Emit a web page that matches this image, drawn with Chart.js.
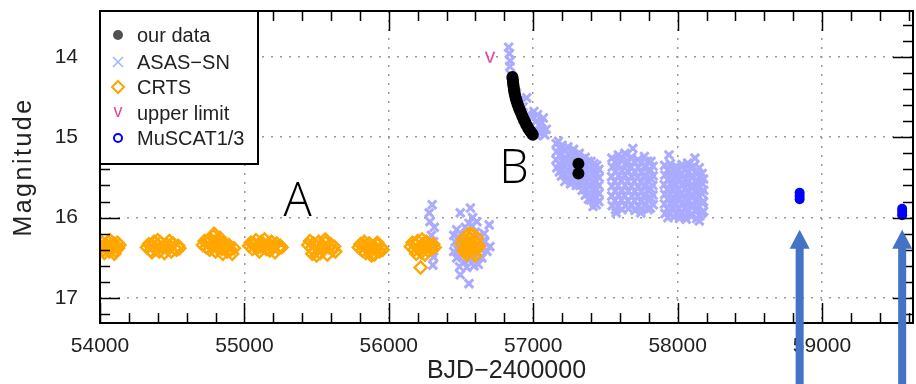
<!DOCTYPE html>
<html>
<head>
<meta charset="utf-8">
<script src="https://cdn.jsdelivr.net/npm/chart.js@4"></script>
<style>
  html, body { margin: 0; padding: 0; background: #fff; overflow: hidden; }
  #wrap { width: 922px; height: 384px; }
</style>
</head>
<body>
<div id="wrap"><canvas id="lightCurve"></canvas></div>
<script>
// axis ranges (BJD-2400000, magnitude runs downwards)
const xMin = 54000, xMax = 59630;
const magTop = 13.43, magBottom = 17.31;
const xTickValues = [54000, 55000, 56000, 57000, 58000, 59000];
const yTickValues = [14, 15, 16, 17];

// our photometry: fading branch and two late points
const ourData = [
  [56856,14.25],[56858,14.28],[56860,14.31],[56862,14.34],[56864,14.37],[56866,14.40],
  [56869,14.43],[56872,14.46],[56876,14.49],[56880,14.52],[56885,14.55],[56890,14.58],
  [56896,14.61],[56902,14.64],[56909,14.67],[56916,14.70],[56923,14.73],[56930,14.76],
  [56937,14.79],[56944,14.81],[56951,14.84],[56958,14.86],[56966,14.89],[56974,14.91],
  [56982,14.93],[56990,14.95],[56997,14.97],
  [57313,15.33],[57313,15.45]
];

// ASAS-SN, one block per season
const asasSeason1 = [
  [56300,15.84],[56280,15.94],[56285,16.05],[56315,16.12],[56295,16.22],[56310,16.30],
  [56315,16.37],[56300,16.44],[56310,16.49],[56305,16.59]
];
const asasSeason2 = [
  [56495,15.94],[56565,15.88],[56555,16.07],[56695,16.09],[56665,16.30],[56700,16.36],
  [56490,16.61],[56495,16.71],[56555,16.82],[56645,16.50],[56470,16.15],[56500,16.20],
  [56530,16.12],[56600,16.18],[56630,16.22],[56460,16.30],[56480,16.40],[56510,16.45],
  [56600,16.48],[56640,16.40],[56620,16.58],[56520,16.55],[56470,16.50],[56580,16.00],
  [56610,16.05],[56450,16.22],[56540,16.62],[56590,16.60],[56660,16.20],[56680,16.42],
  [56450,16.42],[56500,16.33],[56560,16.52],[56650,16.30],[56485,16.25],[56575,16.10]
];
const asasOutburst = [
  [56830,13.88],[56835,13.96],[56840,14.05],[56838,14.12],[56845,14.22],[56860,14.35],
  [56885,14.45],[56905,14.55],[56930,14.62],[56955,14.51],[56960,14.72],[56990,14.75],
  [57020,14.80],[57040,14.85],[56975,14.88],[57010,14.92],[57050,14.92],[56945,14.80],
  [57030,14.72],[57005,14.68],[57060,14.82],[57080,14.97],[57070,14.76],[57090,14.90],
  [57045,14.95],[57025,14.98]
];
const asasSeason3 = [
  [57175,15.05],[57160,15.08],[57162,15.18],[57158,15.28],[57163,15.38],
  [57180,15.13],[57182,15.23],[57178,15.33],[57181,15.43],
  [57200,15.10],[57198,15.20],[57203,15.30],[57200,15.40],[57196,15.48],
  [57220,15.16],[57222,15.26],[57218,15.36],[57221,15.46],[57219,15.55],
  [57240,15.12],[57243,15.22],[57238,15.32],[57241,15.42],[57240,15.52],
  [57260,15.18],[57262,15.28],[57258,15.38],[57261,15.48],[57259,15.58],
  [57280,15.15],[57278,15.25],[57283,15.35],[57280,15.45],[57277,15.55],
  [57300,15.22],[57302,15.32],[57298,15.42],[57301,15.52],[57299,15.60],
  [57320,15.20],[57322,15.28],[57318,15.40],[57320,15.50],[57323,15.60],
  [57340,15.27],[57342,15.37],[57338,15.47],[57341,15.57],[57339,15.66],
  [57360,15.25],[57358,15.35],[57362,15.45],[57360,15.55],[57357,15.65],[57361,15.72],
  [57380,15.30],[57382,15.40],[57378,15.50],[57381,15.60],[57379,15.70],[57383,15.77],
  [57400,15.30],[57403,15.40],[57398,15.50],[57401,15.60],[57400,15.70],[57397,15.78],
  [57420,15.33],[57422,15.43],[57418,15.53],[57421,15.63],[57419,15.73],[57423,15.81],
  [57440,15.35],[57442,15.45],[57438,15.55],[57441,15.65],[57440,15.75],[57437,15.84],
  [57455,15.40],[57456,15.50],[57454,15.60],[57456,15.70],[57455,15.80],
  [57415,15.86]
];
const asasSeason4 = [
  [57545,15.26],[57548,15.37],[57543,15.49],[57546,15.61],[57544,15.73],[57547,15.85],
  [57567,15.31],[57569,15.43],[57565,15.55],[57568,15.67],[57566,15.79],[57570,15.90],
  [57590,15.22],[57588,15.35],[57592,15.48],[57589,15.60],[57591,15.72],[57587,15.86],[57575,15.94],
  [57612,15.27],[57614,15.41],[57610,15.54],[57613,15.66],[57611,15.78],[57615,15.90],
  [57635,15.20],[57637,15.33],[57633,15.47],[57636,15.60],[57634,15.73],[57638,15.85],
  [57657,15.30],[57659,15.43],[57655,15.55],[57658,15.67],[57656,15.79],[57660,15.89],
  [57680,15.25],[57678,15.37],[57682,15.49],[57679,15.61],[57683,15.73],[57680,15.84],[57690,15.14],
  [57702,15.31],[57704,15.43],[57700,15.55],[57703,15.67],[57701,15.79],[57705,15.91],
  [57725,15.28],[57727,15.38],[57723,15.50],[57726,15.62],[57724,15.74],[57728,15.86],[57745,15.94],
  [57747,15.32],[57749,15.44],[57745,15.56],[57748,15.68],[57746,15.80],
  [57770,15.24],[57772,15.36],[57768,15.48],[57771,15.60],[57769,15.72],[57773,15.84],
  [57792,15.30],[57794,15.42],[57790,15.54],[57793,15.66],[57791,15.78],[57795,15.90],
  [57815,15.30],[57813,15.41],[57817,15.52],[57814,15.64],[57816,15.76],[57812,15.88],
  [57830,15.36],[57831,15.48],[57829,15.60],[57830,15.72],[57831,15.84]
];
const asasSeason5 = [
  [57940,15.22],[58120,15.26],
  [57910,15.35],[57912,15.47],[57908,15.59],[57911,15.71],[57909,15.83],[57913,15.95],
  [57930,15.41],[57932,15.53],[57928,15.65],[57931,15.77],[57929,15.89],[57933,16.00],
  [57950,15.33],[57948,15.45],[57952,15.58],[57949,15.70],[57951,15.82],[57947,15.94],
  [57970,15.39],[57972,15.51],[57968,15.63],[57971,15.75],[57969,15.87],[57973,15.99],
  [57990,15.36],[57992,15.48],[57988,15.60],[57991,15.72],[57989,15.84],[57993,15.96],
  [58010,15.41],[58012,15.53],[58008,15.65],[58011,15.77],[58009,15.89],[58013,16.01],
  [58030,15.34],[58028,15.46],[58032,15.58],[58029,15.70],[58031,15.82],[58027,15.95],
  [58050,15.40],[58052,15.52],[58048,15.64],[58051,15.76],[58049,15.88],[58053,15.99],
  [58070,15.32],[58072,15.44],[58068,15.56],[58071,15.68],[58069,15.80],[58073,15.92],[58060,16.02],
  [58090,15.38],[58092,15.50],[58088,15.62],[58091,15.74],[58089,15.86],[58093,15.98],
  [58110,15.36],[58108,15.48],[58112,15.60],[58109,15.72],[58111,15.84],[58107,15.96],
  [58130,15.42],[58132,15.54],[58128,15.66],[58131,15.78],[58129,15.90],[58133,16.01],
  [58150,15.38],[58152,15.50],[58148,15.62],[58151,15.74],[58149,15.86],[58153,15.98],[58150,16.04],
  [58170,15.45],[58172,15.58],[58168,15.70],[58171,15.82],[58169,15.94],
  [58180,15.52],[58181,15.66],[58179,15.80],[58180,15.92]
];

// CRTS, one block per season
const crtsSeasons = [
  [[54005,16.36],[54015,16.31],[54025,16.40],[54035,16.34],[54045,16.38],[54055,16.30],
   [54065,16.42],[54075,16.35],[54085,16.39],[54095,16.32],[54105,16.41],[54115,16.36],
   [54125,16.38],[54135,16.34],[54030,16.44],[54070,16.28],[54100,16.45],[54050,16.35],
   [54090,16.37],[54120,16.31]],
  [[54325,16.37],[54338,16.33],[54350,16.41],[54362,16.35],[54374,16.30],[54386,16.39],
   [54398,16.34],[54410,16.42],[54422,16.31],[54434,16.37],[54446,16.44],[54458,16.33],
   [54470,16.39],[54482,16.35],[54494,16.42],[54506,16.32],[54518,16.38],[54530,16.40],
   [54542,16.35],[54550,16.38],[54400,16.28],[54480,16.29],[54440,16.36],[54360,16.43]],
  [[54712,16.34],[54724,16.29],[54736,16.37],[54748,16.31],[54760,16.26],[54772,16.35],
   [54784,16.23],[54796,16.30],[54808,16.36],[54820,16.28],[54832,16.33],[54844,16.39],
   [54856,16.31],[54868,16.36],[54880,16.42],[54892,16.34],[54904,16.40],[54916,16.45],
   [54928,16.38],[54760,16.40],[54800,16.42],[54850,16.45],[54790,16.20],[54830,16.25]],
  [[55032,16.35],[55044,16.31],[55056,16.39],[55068,16.33],[55080,16.28],[55092,16.37],
   [55104,16.42],[55116,16.30],[55128,16.35],[55140,16.27],[55152,16.39],[55164,16.33],
   [55176,16.41],[55188,16.30],[55200,16.36],[55212,16.43],[55224,16.32],[55236,16.38],
   [55248,16.35],[55258,16.37],[55110,16.36],[55180,16.36]],
  [[55442,16.34],[55454,16.29],[55466,16.38],[55478,16.32],[55490,16.42],[55502,16.36],
   [55514,16.30],[55526,16.44],[55538,16.35],[55550,16.39],[55562,16.31],[55574,16.46],
   [55586,16.37],[55598,16.33],[55610,16.40],[55622,16.36],[55630,16.42],[55500,16.47],
   [55560,16.27],[55470,16.45]],
  [[55792,16.37],[55804,16.33],[55816,16.41],[55828,16.35],[55840,16.44],[55852,16.38],
   [55864,16.32],[55876,16.42],[55888,16.36],[55900,16.46],[55912,16.39],[55924,16.34],
   [55936,16.42],[55948,16.37],[55958,16.40],[55830,16.30],[55880,16.47],[55920,16.31]],
  [[56152,16.36],[56164,16.31],[56176,16.40],[56188,16.34],[56200,16.29],[56212,16.38],
   [56224,16.43],[56236,16.33],[56248,16.37],[56260,16.30],[56272,16.41],[56284,16.35],
   [56296,16.39],[56308,16.33],[56318,16.37],[56190,16.45],[56250,16.46],[56230,16.27],
   [56220,16.62]],
  [[56505,16.33],[56515,16.27],[56525,16.38],[56535,16.23],[56545,16.31],[56555,16.42],
   [56565,16.26],[56575,16.35],[56585,16.44],[56595,16.30],[56605,16.38],[56615,16.33],
   [56625,16.36],[56540,16.46],[56600,16.47],[56560,16.20],[56520,16.42],[56580,16.21],
   [56550,16.36],[56610,16.25]]
];

const upperLimits = [[56701, 14.01]];

const muscat = [
  [58845,15.69],[58845,15.73],[58845,15.77],
  [59555,15.89],[59555,15.93],[59555,15.97]
];

// annotation letters and the arrows marking the MuSCAT epochs
const letterMarks = [
  { text: 'A', x: 55368, mag: 15.975 },
  { text: 'B', x: 56866, mag: 15.575 }
];
const arrowTargets = [58845, 59555];
const arrowTipMag = 16.15;

const toXY = pts => pts.map(([x, m]) => ({ x: x, y: m }));
const FONT = '"Liberation Sans", Arial, Helvetica, sans-serif';

function veeMarker(color) {
  const c = document.createElement('canvas');
  c.width = 16; c.height = 18;
  const g = c.getContext('2d');
  g.fillStyle = color;
  g.font = '21px ' + FONT;
  g.textAlign = 'center';
  g.textBaseline = 'middle';
  g.fillText('v', 8, 8);
  return c;
}

const colors = {
  ours: '#000000',
  asas: '#aaaaff',
  crts: '#ffa600',
  upper: '#e2449b',
  muscat: '#0000ff',
  arrow: '#4472c4'
};

const frameAndNotes = {
  id: 'frameAndNotes',
  afterDraw(chart) {
    const { ctx, chartArea: a, scales: { x, y } } = chart;
    ctx.save();

    // inward ticks on all four sides
    ctx.strokeStyle = '#000';
    ctx.lineWidth = 1.5;
    ctx.beginPath();
    for (let v = xMin; v <= xMax; v += 200) {
      const px = Math.round(x.getPixelForValue(v)) + 0.5;
      const len = v % 1000 === 0 ? 20 : 10;
      ctx.moveTo(px, a.bottom); ctx.lineTo(px, a.bottom - len);
      ctx.moveTo(px, a.top); ctx.lineTo(px, a.top + len);
    }
    for (let k = 68; k <= 86; k++) {
      const py = Math.round(y.getPixelForValue(k * 0.2)) + 0.5;
      const len = k % 5 === 0 ? 20 : 10;
      ctx.moveTo(a.left, py); ctx.lineTo(a.left + len, py);
      ctx.moveTo(a.right, py); ctx.lineTo(a.right - len, py);
    }
    ctx.stroke();

    ctx.lineWidth = 2;
    ctx.strokeRect(a.left, a.top, a.right - a.left, a.bottom - a.top);

    // legend box
    const bx = a.left, by = a.top, bw = 158, bh = 153;
    ctx.fillStyle = '#fff';
    ctx.fillRect(bx, by, bw, bh);
    ctx.strokeRect(bx, by, bw, bh);

    const mx = bx + 18, tx = bx + 37;
    const rows = [by + 24, by + 51, by + 76, by + 102, by + 127];
    ctx.font = '20px ' + FONT;
    ctx.textBaseline = 'middle';
    ctx.textAlign = 'left';
    ctx.fillStyle = '#222';
    ['our data', 'ASAS\u2212SN', 'CRTS', 'upper limit', 'MuSCAT1/3'].forEach((t, i) => {
      ctx.fillText(t, tx, rows[i] + 1);
    });

    ctx.fillStyle = '#505050';
    ctx.beginPath(); ctx.arc(mx, rows[0], 5, 0, Math.PI * 2); ctx.fill();

    ctx.strokeStyle = '#9fb4ff'; ctx.lineWidth = 1.5;
    ctx.beginPath();
    ctx.moveTo(mx - 5, rows[1] - 5); ctx.lineTo(mx + 5, rows[1] + 5);
    ctx.moveTo(mx + 5, rows[1] - 5); ctx.lineTo(mx - 5, rows[1] + 5);
    ctx.stroke();

    ctx.strokeStyle = colors.crts; ctx.lineWidth = 2;
    ctx.beginPath();
    ctx.moveTo(mx, rows[2] - 6); ctx.lineTo(mx + 6, rows[2]);
    ctx.lineTo(mx, rows[2] + 6); ctx.lineTo(mx - 6, rows[2]); ctx.closePath();
    ctx.stroke();

    ctx.fillStyle = colors.upper;
    ctx.font = '18px ' + FONT;
    ctx.textAlign = 'center';
    ctx.fillText('v', mx, rows[3] - 1);

    ctx.strokeStyle = colors.muscat; ctx.lineWidth = 2;
    ctx.beginPath(); ctx.arc(mx, rows[4], 4, 0, Math.PI * 2); ctx.stroke();

    // axis titles
    ctx.fillStyle = '#222';
    ctx.font = '25px ' + FONT;
    ctx.textAlign = 'center';
    ctx.fillText('BJD\u22122400000', (a.left + a.right) / 2, a.bottom + 48);
    ctx.save();
    ctx.translate(24, (a.top + a.bottom) / 2);
    ctx.rotate(-Math.PI / 2);
    ctx.letterSpacing = '2.5px';
    ctx.fillText('Magnitude', 0, 0);
    ctx.restore();

    // letters
    ctx.fillStyle = '#000';
    ctx.font = '300 47px "Open Sans", "Noto Sans", sans-serif';
    ctx.textBaseline = 'alphabetic';
    letterMarks.forEach(m => {
      ctx.fillText(m.text, x.getPixelForValue(m.x), y.getPixelForValue(m.mag));
    });

    // arrows from the bottom edge up to the MuSCAT epochs
    ctx.fillStyle = colors.arrow;
    const tipY = y.getPixelForValue(arrowTipMag);
    arrowTargets.forEach(t => {
      const px = x.getPixelForValue(t);
      ctx.fillRect(px - 4, tipY + 18, 8, chart.height - tipY - 18);
      ctx.beginPath();
      ctx.moveTo(px, tipY);
      ctx.lineTo(px + 10, tipY + 19);
      ctx.lineTo(px - 10, tipY + 19);
      ctx.closePath();
      ctx.fill();
    });

    ctx.restore();
  }
};

new Chart(document.getElementById('lightCurve'), {
  type: 'scatter',
  data: {
    datasets: [
      {
        label: 'MuSCAT1/3',
        data: toXY(muscat),
        pointStyle: 'circle',
        pointRadius: 5,
        backgroundColor: colors.muscat,
        borderColor: colors.muscat,
        borderWidth: 0,
        clip: 0
      },
      {
        label: 'our data',
        data: toXY(ourData),
        pointStyle: 'circle',
        pointRadius: 6,
        backgroundColor: colors.ours,
        borderColor: colors.ours,
        borderWidth: 0,
        clip: 0
      },
      {
        label: 'upper limit',
        data: toXY(upperLimits),
        pointStyle: veeMarker(colors.upper),
        clip: 0
      },
      {
        label: 'CRTS',
        data: toXY(crtsSeasons.flat()),
        pointStyle: 'rectRot',
        pointRadius: 6,
        backgroundColor: 'rgba(0,0,0,0)',
        borderColor: colors.crts,
        borderWidth: 2.4,
        clip: 0
      },
      {
        label: 'ASAS-SN',
        data: toXY([].concat(asasSeason1, asasSeason2, asasOutburst, asasSeason3, asasSeason4, asasSeason5)),
        pointStyle: 'crossRot',
        pointRadius: 6,
        borderColor: colors.asas,
        borderWidth: 3,
        clip: 0
      }
    ]
  },
  options: {
    responsive: true,
    maintainAspectRatio: false,
    animation: false,
    events: [],
    layout: { padding: { top: 11, right: 3, left: 0, bottom: 0 } },
    plugins: { legend: { display: false }, tooltip: { enabled: false } },
    scales: {
      x: {
        type: 'linear',
        min: xMin,
        max: xMax,
        afterBuildTicks: s => { s.ticks = xTickValues.map(v => ({ value: v })); },
        afterFit: s => { s.height = 61; s.paddingLeft = 0; s.paddingRight = 0; },
        grid: { color: '#9a9a9a', lineWidth: 1.5, drawTicks: false },
        border: { display: false, dash: [2, 7] },
        ticks: {
          padding: 11,
          color: '#222',
          font: { family: FONT, size: 21 },
          maxRotation: 0,
          callback: v => String(v)
        }
      },
      y: {
        type: 'linear',
        reverse: true,
        min: magTop,
        max: magBottom,
        afterBuildTicks: s => { s.ticks = yTickValues.map(v => ({ value: v })); },
        afterFit: s => { s.width = 100; s.paddingTop = 0; s.paddingBottom = 0; },
        grid: { color: '#9a9a9a', lineWidth: 1.5, drawTicks: false },
        border: { display: false, dash: [2, 7] },
        ticks: {
          padding: 22,
          color: '#222',
          font: { family: FONT, size: 21 },
          callback: v => String(v)
        }
      }
    }
  },
  plugins: [frameAndNotes]
});
</script>
</body>
</html>
